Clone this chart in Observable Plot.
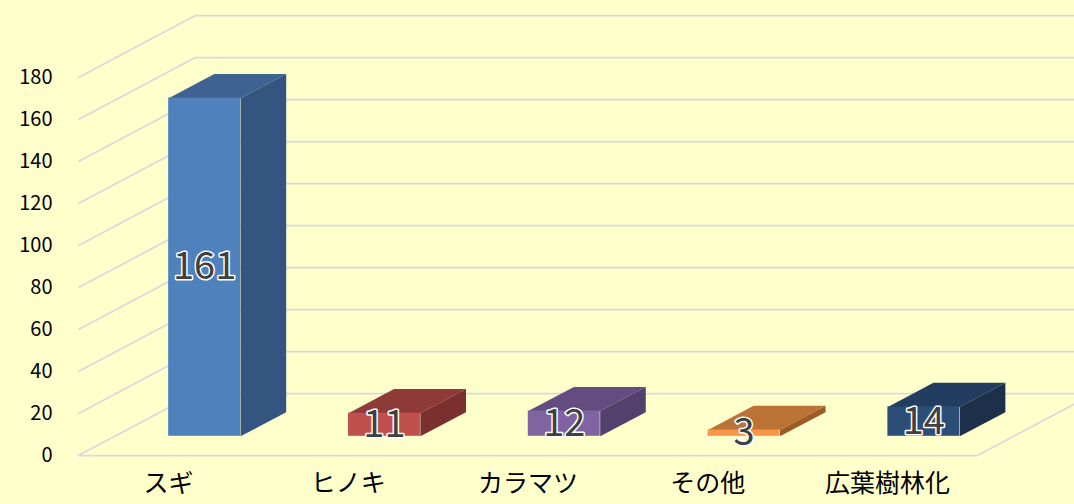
<!DOCTYPE html>
<html><head><meta charset="utf-8">
<script src="https://cdn.jsdelivr.net/npm/d3@7"></script>
<script src="https://cdn.jsdelivr.net/npm/@observablehq/plot@0.6"></script>
<style>
html,body{margin:0;padding:0;background:#FFFFCC;overflow:hidden}
</style></head><body><div id="chart"></div>
<script>
const categories = ["スギ", "ヒノキ", "カラマツ", "その他", "広葉樹林化"];
const values = [161, 11, 12, 3, 14];
const frontColors = ["#4F81BD", "#C0504D", "#8064A2", "#F79646", "#2C4D75"];
const topColors = ["#3E6392", "#8E3A38", "#634C80", "#BA7235", "#233D60"];
const sideColors = ["#34557F", "#7A302E", "#54406D", "#9E5B25", "#1D3049"];
const yTicks = [0, 20, 40, 60, 80, 100, 120, 140, 160, 180];

// 3D geometry (in data units of the front plane)
const WALL_DX = 0.65, WALL_DY = 29.5;   // depth of the floor
const FRONT = 0.31, DEPTH = 0.39;       // bar position / depth as fraction of floor depth
const HALF = 0.2;                       // half bar width

const sx = FRONT * WALL_DX, sy = FRONT * WALL_DY;
const bx = DEPTH * WALL_DX, by = DEPTH * WALL_DY;

const bars = values.map((v, i) => ({i, v, label: String(v), front: frontColors[i]}));
const polys = [];
values.forEach((v, i) => {
  const xl = i - HALF + sx, xr = i + HALF + sx;
  const top = [[xl, v + sy], [xr, v + sy], [xr + bx, v + sy + by], [xl + bx, v + sy + by]];
  const side = [[xr, sy], [xr, v + sy], [xr + bx, v + sy + by], [xr + bx, sy + by]];
  top.forEach(([x, y]) => polys.push({id: "t" + i, x, y, color: topColors[i]}));
  side.forEach(([x, y]) => polys.push({id: "s" + i, x, y, color: sideColors[i]}));
});

const grid = {stroke: "#D9D9D9", strokeWidth: 1.75};

const chart = Plot.plot({
  width: 1074,
  height: 504,
  marginLeft: 78,
  marginRight: 97,
  marginTop: 77,
  marginBottom: 49,
  x: {domain: [-0.5, 4.5]},
  y: {domain: [0, 180]},
  color: {type: "identity"},
  style: {background: "#FFFFCC", fontFamily: "'Noto Sans CJK JP', 'Noto Sans', sans-serif", color: "black", overflow: "visible"},
  marks: [
    Plot.ruleY(yTicks, {y: d => d + WALL_DY, x1: -0.5 + WALL_DX, x2: 5.3, ...grid}),
    Plot.link(yTicks, {x1: -0.5, y1: d => d, x2: -0.5 + WALL_DX, y2: d => d + WALL_DY, ...grid}),
    Plot.ruleY([0], {x1: -0.5, x2: 4.5, ...grid}),
    Plot.link([0], {x1: 4.5, y1: 0, x2: 4.5 + WALL_DX, y2: WALL_DY, ...grid}),
    Plot.line(polys, {x: "x", y: "y", z: "id", fill: "color", stroke: "none", curve: "linear-closed"}),
    Plot.rect(bars, {x1: d => d.i - HALF + sx, x2: d => d.i + HALF + sx, y1: sy, y2: d => d.v + sy, fill: "front"}),
    Plot.text(bars, {x: d => d.i + sx, y: d => d.v / 2 + sy, text: "label", fontSize: 38, fill: "#404040", stroke: "white", strokeWidth: 3}),
    Plot.axisY(yTicks, {tickSize: 0, tickPadding: 26, fontSize: 20, label: null}),
    Plot.axisX([0, 1, 2, 3, 4], {tickFormat: i => categories[i], tickSize: 0, tickPadding: 19, fontSize: 25, label: null})
  ]
});
document.getElementById("chart").appendChild(chart);
</script></body></html>
